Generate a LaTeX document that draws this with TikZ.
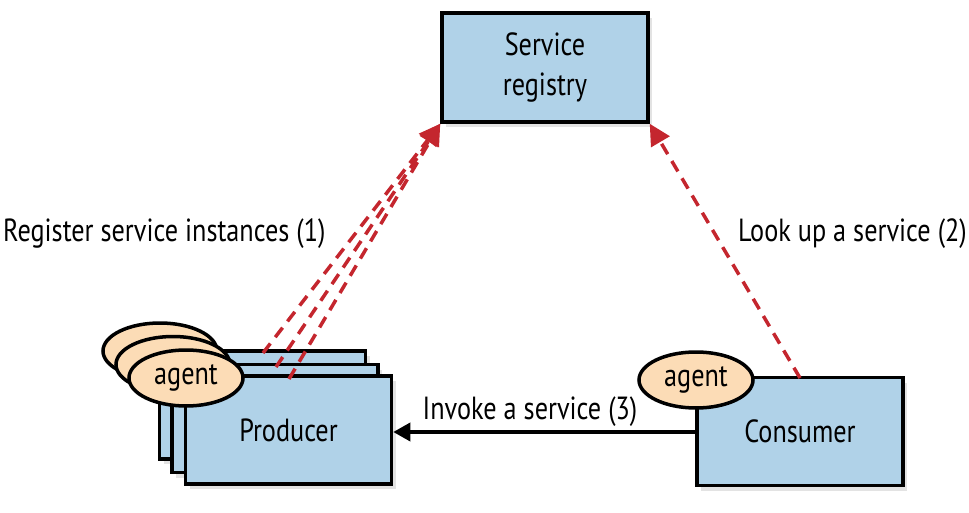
\documentclass[tikz,border=0pt]{standalone}
\usepackage{fontspec}
\setmainfont{PT Sans}[FakeStretch=0.82]
\usetikzlibrary{arrows.meta,shadows,shapes.geometric}
\definecolor{boxblue}{RGB}{176,210,232}
\definecolor{peach}{RGB}{252,220,182}
\definecolor{dred}{RGB}{196,38,46}
\tikzset{
  box/.style={draw=black,line width=3.5pt,fill=boxblue,minimum width=206pt,minimum height=108pt,
    inner sep=0pt,align=center,
    drop shadow={opacity=0.22,shadow xshift=4pt,shadow yshift=-5pt}},
  agentell/.style={ellipse,draw=black,line width=3.5pt,fill=peach,minimum width=114pt,minimum height=56pt,inner sep=0pt},
  lbl/.style={font=\fontsize{32}{40}\selectfont,inner sep=0pt},
  reg/.style={dred,line width=3.5pt,dash pattern=on 12pt off 8pt,-{Triangle[length=21pt,width=21pt]}},
  inv/.style={black,line width=3.5pt,-{Triangle[length=17pt,width=18pt]}}
}
\begin{document}
\begin{tikzpicture}[x=1pt,y=-1pt]
\useasboundingbox (0,0) rectangle (969,513);
% registry
\node[box,lbl,minimum width=206pt,minimum height=109pt] (reg) at (545,67.5) {Service\\registry};
% producer stack
\node[box] (pback) at (262.5,405) {};
\node[box] (pmid) at (275,418.5) {};
\node[box,lbl] (prod) at (288.5,430) {Producer};
\node[agentell] (aback) at (160,351) {};
\node[agentell] (amid) at (173,364.5) {};
\node[agentell,lbl] (afront) at (186,378) {agent};
% consumer
\node[box,lbl] (cons) at (800,431.5) {Consumer};
\node[agentell,lbl] (acons) at (696,380) {agent};
% connectors
\coordinate (regbl) at (reg.south west);
\coordinate (regbr) at (reg.south east);
\coordinate (s1) at (263,353);
\coordinate (s2) at (276,367);
\coordinate (s3) at (289,379);
\coordinate (s4) at (800,378);
\draw[reg] (s1) -- (regbl);
\draw[reg] (s2) -- (regbl);
\draw[reg] (s3) -- (regbl);
\draw[reg] (s4) -- (regbr);
\draw[inv] (cons.west |- 0,432) -- (prod.east |- 0,432);
% labels
\node[lbl,anchor=base west] (l1) at (3,241) {Register service instances (1)};
\node[lbl,anchor=base east] (l2) at (967,241) {Look up a service (2)};
\node[lbl,anchor=base] (l3) at (530,419) {Invoke a service (3)};
\end{tikzpicture}
\end{document}
